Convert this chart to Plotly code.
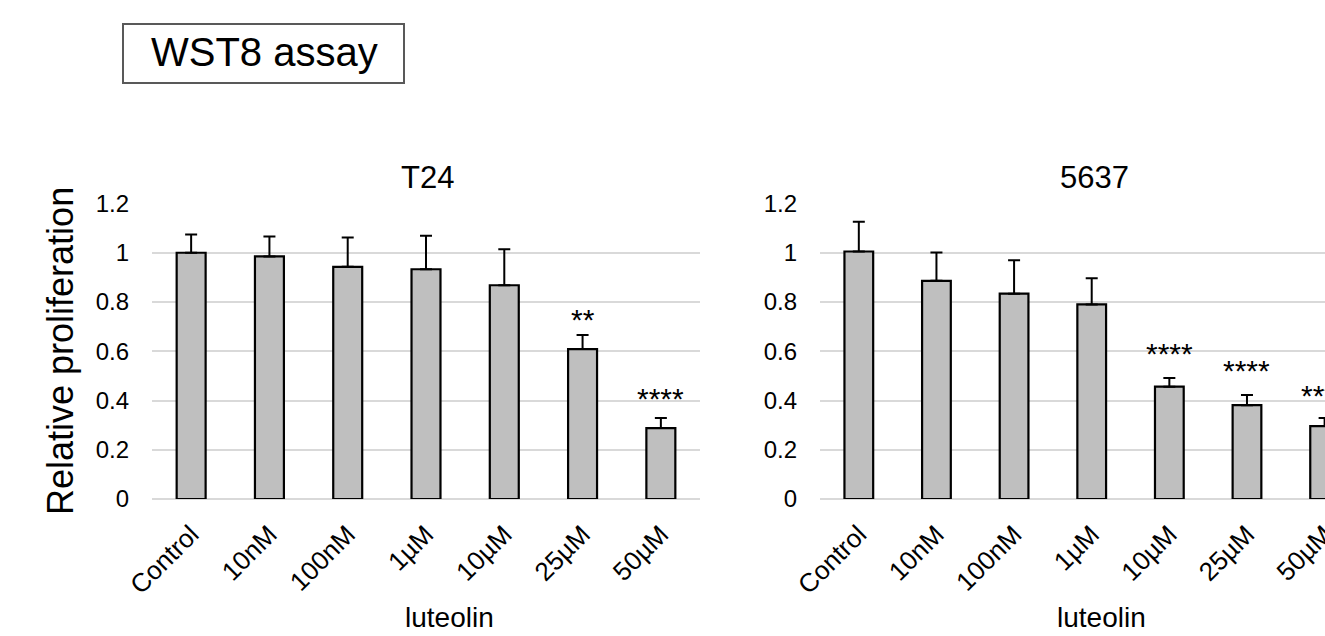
import plotly.graph_objects as go

W, H = 1325, 636

categories = ["Control", "10nM", "100nM", "1µM", "10µM", "25µM", "50µM"]

t24_values = [1.0, 0.985, 0.943, 0.933, 0.868, 0.609, 0.288]
t24_errors = [0.074, 0.081, 0.119, 0.136, 0.146, 0.057, 0.041]
t24_sig = ["", "", "", "", "", "**", "****"]
t24_sig_y = [None, None, None, None, None, 0.759, 0.438]

c5637_values = [1.005, 0.886, 0.834, 0.790, 0.456, 0.381, 0.296]
c5637_errors = [0.121, 0.115, 0.136, 0.106, 0.035, 0.041, 0.033]
c5637_sig = ["", "", "", "", "****", "****", "****"]
c5637_sig_y = [None, None, None, None, 0.619, 0.550, 0.448]

y_ticks = [0, 0.2, 0.4, 0.6, 0.8, 1.0, 1.2]

FONT = "Arial, Liberation Sans, sans-serif"
BAR_FILL = "#bfbfbf"
GRID = "#d9d9d9"


def px_x(p):
    return p / W


def px_y(p):
    return (H - p) / H


fig = go.Figure()

for vals, errs, xa, ya in [(t24_values, t24_errors, "x", "y"),
                           (c5637_values, c5637_errors, "x2", "y2")]:
    fig.add_trace(go.Bar(
        x=categories, y=vals, xaxis=xa, yaxis=ya,
        marker=dict(color=BAR_FILL, line=dict(color="black", width=2.2)),
        error_y=dict(type="data", symmetric=False, array=errs,
                     arrayminus=[0] * len(errs), color="black",
                     thickness=2, width=6),
        showlegend=False, hoverinfo="skip",
    ))

ydom = [px_y(499), px_y(203.5)]

axis_common = dict(
    type="category", showgrid=False, showline=False, zeroline=False,
    ticks="", tickangle=-45, automargin=False, ticklabelstandoff=14,
    tickfont=dict(family=FONT, size=26, color="black"),
)
yaxis_common = dict(
    range=[0, 1.2], tickvals=y_ticks, showgrid=True, gridcolor=GRID, gridwidth=2,
    zeroline=True, zerolinecolor=GRID, zerolinewidth=2, showline=False, ticks="",
    automargin=False,
    tickfont=dict(family=FONT, size=24, color="black"), ticklabelstandoff=22,
)

fig.update_layout(
    template="none",
    width=W, height=H,
    margin=dict(l=0, r=0, t=0, b=0, pad=0, autoexpand=False),
    paper_bgcolor="white", plot_bgcolor="white",
    bargap=0.63,
    xaxis=dict(domain=[px_x(152), px_x(700)], anchor="y",
               range=[-0.5, 6.5], **axis_common),
    yaxis=dict(domain=ydom, anchor="x", **yaxis_common),
    xaxis2=dict(domain=[px_x(820), 1.0], anchor="y2",
                range=[-0.5, 6.005], **axis_common),
    yaxis2=dict(domain=ydom, anchor="x2", **yaxis_common),
)

annotations = []
for sig, sig_y, xa, ya in [(t24_sig, t24_sig_y, "x", "y"),
                           (c5637_sig, c5637_sig_y, "x2", "y2")]:
    for cat, s, sy in zip(categories, sig, sig_y):
        if s:
            annotations.append(dict(
                x=cat, y=sy, xref=xa, yref=ya, text=s, showarrow=False,
                xanchor="center", yanchor="middle", yshift=-7,
                font=dict(family=FONT, size=30, color="black"),
            ))


def paper_text(x, y, text, size, angle=0):
    return dict(x=px_x(x), y=px_y(y), xref="paper", yref="paper", text=text,
                showarrow=False, xanchor="center", yanchor="middle",
                textangle=angle, font=dict(family=FONT, size=size, color="black"))


annotations.append(paper_text(428, 177, "T24", 31))
annotations.append(paper_text(1094, 177, "5637", 31))
annotations.append(paper_text(449, 617, "luteolin", 28))
annotations.append(paper_text(1101, 617, "luteolin", 28))
annotations.append(paper_text(61, 351, "Relative proliferation", 36, angle=-90))
annotations.append(paper_text(264, 52, "WST8 assay", 40))

fig.update_layout(annotations=annotations)

fig.add_shape(type="rect", xref="paper", yref="paper",
              x0=px_x(123), x1=px_x(404), y0=px_y(83), y1=px_y(24),
              line=dict(color="#595959", width=2), fillcolor="rgba(0,0,0,0)")

fig.write_html("out.html")
